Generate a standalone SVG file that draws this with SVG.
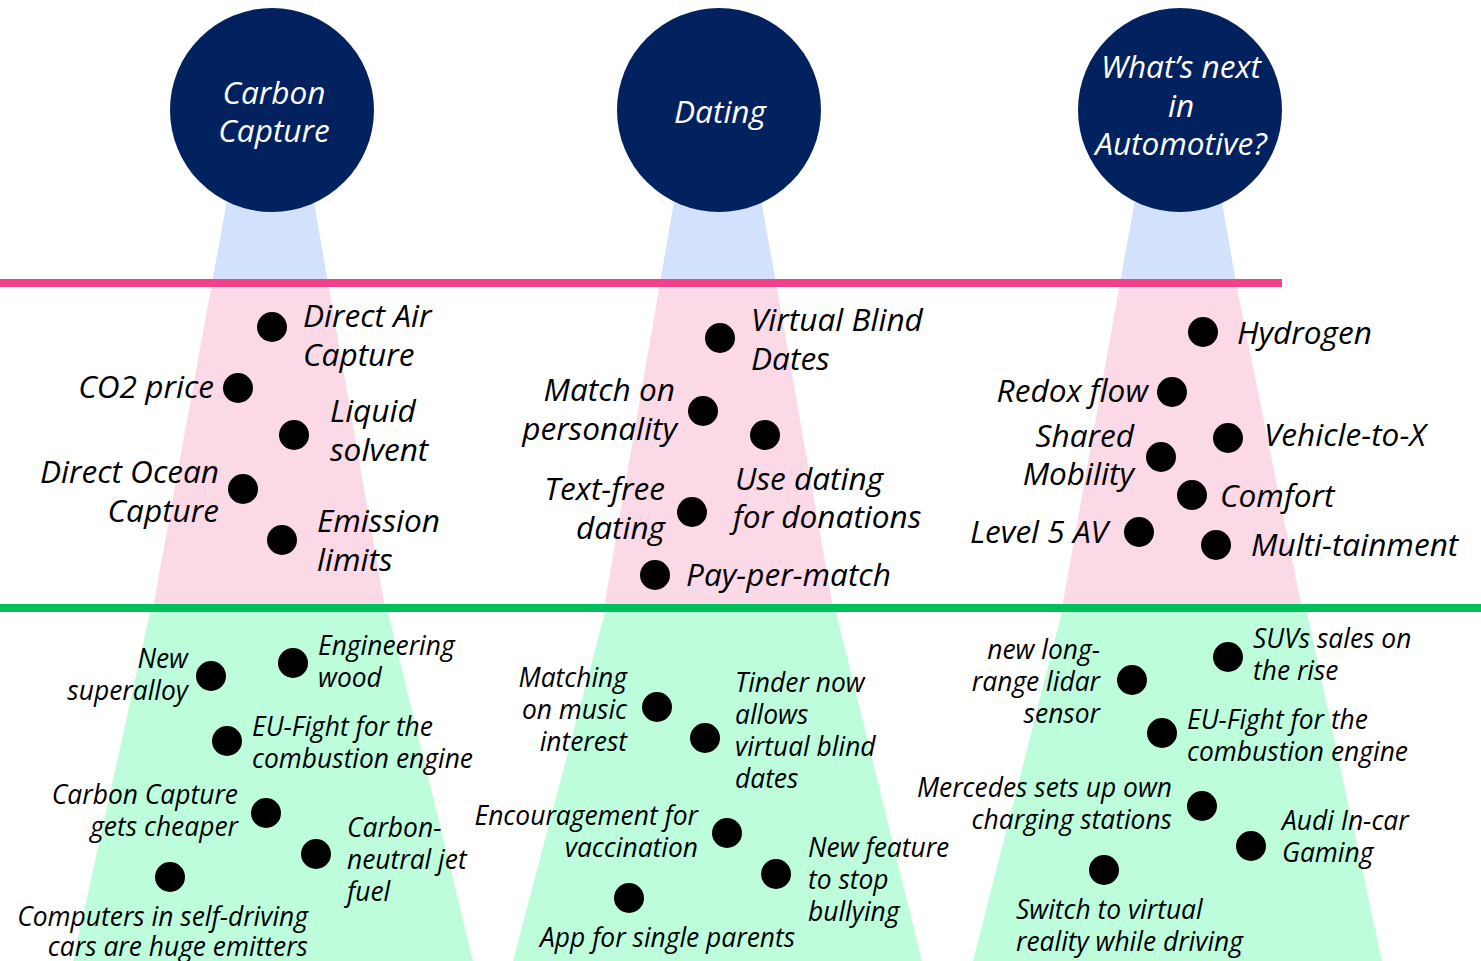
<svg xmlns="http://www.w3.org/2000/svg" width="1481" height="961" viewBox="0 0 1481 961">
<style>
.blue{fill:#d3e2fc}
.pink{fill:#fbd9e6}
.green{fill:#bdfddc}
.hub{fill:#02215f}
.hubt{fill:#ffffff;font-family:"Open Sans","Noto Sans",sans-serif;font-style:italic;font-size:31.6px;text-anchor:middle}
.dot{fill:#000000}
.t1{fill:#000000;font-family:"Open Sans","Noto Sans",sans-serif;font-style:italic;font-size:31.6px}
.t2{fill:#000000;font-family:"Open Sans","Noto Sans",sans-serif;font-style:italic;font-size:26.4px}
.e{text-anchor:end}
</style>
<rect width="1481" height="961" fill="#ffffff"/>
<g id="beams">
<polygon class="blue" points="236,150 305,150 328,283 212,283"/>
<polygon class="pink" points="212,283 328,283 385,608 153,608"/>
<polygon class="green" points="151,608 387,608 473,961 73,961"/>
<polygon class="blue" points="683,150 752,150 776,283 660,283"/>
<polygon class="pink" points="660,283 776,283 833,608 604,608"/>
<polygon class="green" points="606,608 835,608 922,961 513,961"/>
<polygon class="blue" points="1144,150 1213,150 1236,283 1120,283"/>
<polygon class="pink" points="1120,283 1236,283 1302,608 1062,608"/>
<polygon class="green" points="1063,608 1306,608 1382,961 973,961"/>
</g>
<g id="connectors">
<rect x="0" y="279" width="1282" height="8" fill="#f2428a"/>
<rect x="0" y="604" width="1481" height="8" fill="#00c05a"/>
</g>
<g id="hub-carbon">
<circle class="hub" cx="272" cy="110" r="102"/>
<text class="hubt" x="274" y="104">Carbon</text>
<text class="hubt" x="274" y="142">Capture</text>
</g>
<g id="hub-dating">
<circle class="hub" cx="719" cy="110" r="102"/>
<text class="hubt" x="720" y="123">Dating</text>
</g>
<g id="hub-auto">
<circle class="hub" cx="1180" cy="110" r="102"/>
<text class="hubt" x="1181" y="78">What’s next</text>
<text class="hubt" x="1181" y="117">in</text>
<text class="hubt" x="1181" y="155">Automotive?</text>
</g>
<g id="carbon-trends">
<g id="n-dac"><circle class="dot" cx="272" cy="327" r="15"/><text class="t1" x="303" y="327">Direct Air</text><text class="t1" x="303" y="366">Capture</text></g>
<g id="n-co2"><circle class="dot" cx="238" cy="388" r="15"/><text class="t1 e" x="214" y="398">CO2 price</text></g>
<g id="n-liquid"><circle class="dot" cx="294" cy="435" r="15"/><text class="t1" x="330" y="422">Liquid</text><text class="t1" x="330" y="461">solvent</text></g>
<g id="n-doc"><circle class="dot" cx="243" cy="489" r="15"/><text class="t1 e" x="219" y="483">Direct Ocean</text><text class="t1 e" x="219" y="522">Capture</text></g>
<g id="n-emission"><circle class="dot" cx="282" cy="540" r="15"/><text class="t1" x="317" y="532">Emission</text><text class="t1" x="317" y="571">limits</text></g>
</g>
<g id="dating-trends">
<g id="n-vbd"><circle class="dot" cx="720" cy="338" r="15"/><text class="t1" x="751" y="331">Virtual Blind</text><text class="t1" x="751" y="370">Dates</text></g>
<g id="n-match"><circle class="dot" cx="703" cy="411" r="15"/><text class="t1 e" x="675" y="401">Match on</text><text class="t1 e" x="677" y="440">personality</text></g>
<g id="n-blank"><circle class="dot" cx="765" cy="435" r="15"/></g>
<g id="n-textfree"><circle class="dot" cx="692" cy="512" r="15"/><text class="t1 e" x="665" y="500">Text-free</text><text class="t1 e" x="665" y="539">dating</text></g>
<g id="n-donations"><text class="t1" x="735" y="490">Use dating</text><text class="t1" x="733" y="528">for donations</text></g>
<g id="n-ppm"><circle class="dot" cx="655" cy="575" r="15"/><text class="t1" x="686" y="586">Pay-per-match</text></g>
</g>
<g id="auto-trends">
<g id="n-hydrogen"><circle class="dot" cx="1203" cy="332" r="15"/><text class="t1" x="1237" y="344">Hydrogen</text></g>
<g id="n-redox"><circle class="dot" cx="1172" cy="392" r="15"/><text class="t1 e" x="1148" y="402">Redox flow</text></g>
<g id="n-shared"><circle class="dot" cx="1161" cy="457" r="15"/><text class="t1 e" x="1134" y="447">Shared</text><text class="t1 e" x="1134" y="485">Mobility</text></g>
<g id="n-v2x"><circle class="dot" cx="1228" cy="438" r="15"/><text class="t1" x="1264" y="446">Vehicle-to-X</text></g>
<g id="n-comfort"><circle class="dot" cx="1192" cy="495" r="15"/><text class="t1" x="1220" y="507">Comfort</text></g>
<g id="n-l5"><circle class="dot" cx="1139" cy="532" r="15"/><text class="t1 e" x="1108" y="543">Level 5 AV</text></g>
<g id="n-multi"><circle class="dot" cx="1216" cy="545" r="15"/><text class="t1" x="1251" y="556">Multi-tainment</text></g>
</g>
<g id="carbon-signals">
<g id="s-alloy"><circle class="dot" cx="211" cy="676" r="15"/><text class="t2 e" x="188" y="668">New</text><text class="t2 e" x="188" y="700">superalloy</text></g>
<g id="s-wood"><circle class="dot" cx="293" cy="663" r="15"/><text class="t2" x="318" y="655">Engineering</text><text class="t2" x="318" y="687">wood</text></g>
<g id="s-eu1"><circle class="dot" cx="227" cy="741" r="15"/><text class="t2" x="252" y="736">EU-Fight for the</text><text class="t2" x="252" y="768">combustion engine</text></g>
<g id="s-cheaper"><circle class="dot" cx="266" cy="813" r="15"/><text class="t2 e" x="238" y="804">Carbon Capture</text><text class="t2 e" x="238" y="836">gets cheaper</text></g>
<g id="s-jet"><circle class="dot" cx="316" cy="854" r="15"/><text class="t2" x="347" y="837">Carbon-</text><text class="t2" x="347" y="869">neutral jet</text><text class="t2" x="347" y="901">fuel</text></g>
<g id="s-computers"><circle class="dot" cx="170" cy="877" r="15"/><text class="t2 e" x="308" y="926">Computers in self-driving</text><text class="t2 e" x="308" y="956">cars are huge emitters</text></g>
</g>
<g id="dating-signals">
<g id="s-music"><circle class="dot" cx="657" cy="707" r="15"/><text class="t2 e" x="627" y="687">Matching</text><text class="t2 e" x="627" y="719">on music</text><text class="t2 e" x="627" y="751">interest</text></g>
<g id="s-tinder"><circle class="dot" cx="705" cy="738" r="15"/><text class="t2" x="735" y="692">Tinder now</text><text class="t2" x="735" y="724">allows</text><text class="t2" x="735" y="756">virtual blind</text><text class="t2" x="735" y="788">dates</text></g>
<g id="s-vacc"><circle class="dot" cx="727" cy="833" r="15"/><text class="t2 e" x="698" y="825">Encouragement for</text><text class="t2 e" x="698" y="857">vaccination</text></g>
<g id="s-bully"><circle class="dot" cx="776" cy="874" r="15"/><text class="t2" x="808" y="857">New feature</text><text class="t2" x="808" y="889">to stop</text><text class="t2" x="808" y="921">bullying</text></g>
<g id="s-parents"><circle class="dot" cx="629" cy="898" r="15"/><text class="t2" x="540" y="947">App for single parents</text></g>
</g>
<g id="auto-signals">
<g id="s-lidar"><circle class="dot" cx="1132" cy="680" r="15"/><text class="t2 e" x="1100" y="659">new long-</text><text class="t2 e" x="1100" y="691">range lidar</text><text class="t2 e" x="1100" y="723">sensor</text></g>
<g id="s-suv"><circle class="dot" cx="1228" cy="657" r="15"/><text class="t2" x="1253" y="648">SUVs sales on</text><text class="t2" x="1253" y="680">the rise</text></g>
<g id="s-eu2"><circle class="dot" cx="1162" cy="733" r="15"/><text class="t2" x="1187" y="729">EU-Fight for the</text><text class="t2" x="1187" y="761">combustion engine</text></g>
<g id="s-merc"><circle class="dot" cx="1202" cy="806" r="15"/><text class="t2 e" x="1172" y="797">Mercedes sets up own</text><text class="t2 e" x="1172" y="829">charging stations</text></g>
<g id="s-audi"><circle class="dot" cx="1251" cy="846" r="15"/><text class="t2" x="1282" y="830">Audi In-car</text><text class="t2" x="1282" y="862">Gaming</text></g>
<g id="s-vr"><circle class="dot" cx="1104" cy="870" r="15"/><text class="t2" x="1016" y="919">Switch to virtual</text><text class="t2" x="1016" y="951">reality while driving</text></g>
</g>
</svg>
